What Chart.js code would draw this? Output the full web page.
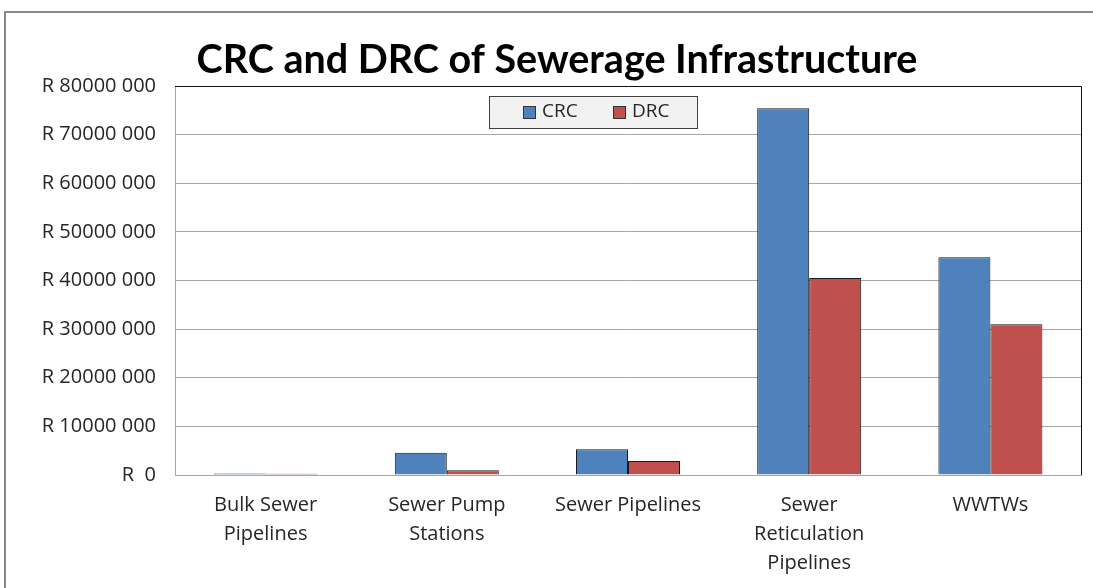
<!DOCTYPE html>
<html>
<head>
  <title>CRC and DRC of Sewerage Infrastructure</title>
  <style>
    body { margin: 0; background: #fff; }
    #wrap { width: 1093px; height: 588px; }
  </style>
  <script src="https://cdn.jsdelivr.net/npm/chart.js"></script>
</head>
<body>
  <div id="wrap"><canvas id="chart" width="1093" height="588"></canvas></div>
  <script>
    const categories = [
      ["Bulk Sewer", "Pipelines"],
      ["Sewer Pump", "Stations"],
      "Sewer Pipelines",
      ["Sewer", "Reticulation", "Pipelines"],
      "WWTWs"
    ];
    const crcValues = [300000, 4600000, 5300000, 75400000, 44800000];
    const drcValues = [250000, 1000000, 2900000, 40500000, 31000000];
    const yTickLabels = ["R  0", "R 10000 000", "R 20000 000", "R 30000 000", "R 40000 000",
                         "R 50000 000", "R 60000 000", "R 70000 000", "R 80000 000"];
    const titleText = "CRC and DRC of Sewerage Infrastructure";

    const FONT = "'Open Sans', sans-serif";
    const TITLE_FONT = "Lato, sans-serif";

    // frame, title, plot border and legend box drawn on the canvas
    const decor = {
      id: 'decor',
      beforeDraw(chart) {
        const c = chart.ctx;
        c.save();
        c.strokeStyle = '#888';
        c.lineWidth = 2;
        c.beginPath();
        c.moveTo(5, 588); c.lineTo(5, 12); c.lineTo(1093, 12);
        c.stroke();
        c.fillStyle = '#000';
        c.font = "bold 39.5px " + TITLE_FONT;
        c.textAlign = 'center';
        c.textBaseline = 'middle';
        c.fillText(titleText, 557, 60);
        c.restore();
      },
      afterDraw(chart) {
        const c = chart.ctx, a = chart.chartArea;
        c.save();
        c.strokeStyle = '#111';
        c.lineWidth = 1;
        c.beginPath();
        c.moveTo(a.left, a.top + 0.5); c.lineTo(a.right + 0.5, a.top + 0.5); c.lineTo(a.right + 0.5, a.bottom);
        c.stroke();
        // legend
        const lx = 489, ly = 96, lw = 208, lh = 32;
        c.fillStyle = '#f2f2f2';
        c.fillRect(lx, ly, lw, lh);
        c.strokeStyle = '#404040';
        c.strokeRect(lx + 0.5, ly + 0.5, lw, lh);
        c.font = "19px " + FONT;
        c.textBaseline = 'middle';
        const items = chart.data.datasets;
        const xs = [523, 613];
        items.forEach((ds, i) => {
          c.fillStyle = ds.backgroundColor;
          c.fillRect(xs[i], 106, 12, 12);
          c.strokeStyle = '#333';
          c.strokeRect(xs[i] + 0.5, 106.5, 12, 12);
          c.fillStyle = '#262626';
          c.textAlign = 'left';
          c.fillText(ds.label, xs[i] + 19, 112);
        });
        c.restore();
      }
    };

    new Chart(document.getElementById('chart'), {
      type: 'bar',
      data: {
        labels: categories,
        datasets: [
          { label: 'CRC', data: crcValues, backgroundColor: '#4F81BD', borderColor: '#1a1a1a', borderWidth: 1,
            categoryPercentage: 0.574, barPercentage: 1.0 },
          { label: 'DRC', data: drcValues, backgroundColor: '#C0504D', borderColor: '#1a1a1a', borderWidth: 1,
            categoryPercentage: 0.574, barPercentage: 1.0 }
        ]
      },
      options: {
        responsive: false,
        animation: false,
        layout: { padding: { top: 86, left: 5, right: 12, bottom: 0 } },
        plugins: {
          legend: { display: false },
          title: { display: false },
          tooltip: { enabled: false }
        },
        scales: {
          x: {
            grid: { display: false, drawTicks: false },
            border: { color: '#a6a6a6', width: 1 },
            ticks: { color: '#262626', font: { family: FONT, size: 20, lineHeight: 1.44 }, padding: 16, maxRotation: 0, autoSkip: false },
            afterFit(s) { s.height = 113; }
          },
          y: {
            min: 0, max: 80000000,
            grid: { color: '#a6a6a6', drawTicks: false },
            border: { color: '#a6a6a6', width: 1 },
            ticks: {
              stepSize: 10000000,
              color: '#262626',
              font: { family: FONT, size: 20 },
              padding: 19,
              callback: (v, i) => yTickLabels[i]
            },
            afterFit(s) { s.width = 170; }
          }
        }
      },
      plugins: [decor]
    });
  </script>
</body>
</html>
